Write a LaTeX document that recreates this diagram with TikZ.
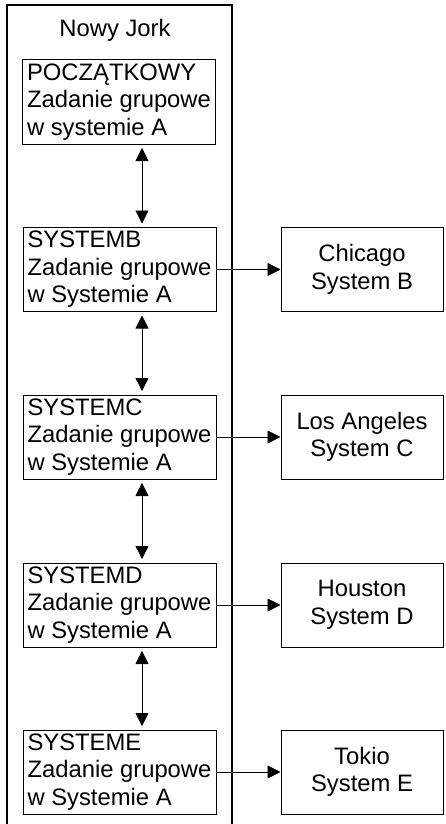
\documentclass[tikz,border=0pt]{standalone}
\usepackage{fontspec}
\setmainfont{Liberation Sans}
\usetikzlibrary{arrows.meta}
\begin{document}
\begin{tikzpicture}[x=1pt,y=-1pt,
  every node/.style={font=\fontsize{23.8}{27.5}\selectfont},
  jobbox/.style={draw,line width=1pt,minimum width=193pt,minimum height=84pt,inner xsep=2pt,align=left},
  sysbox/.style={draw,line width=1pt,minimum width=162pt,minimum height=84pt,align=center},
  conn/.style={line width=0.8pt,-{Triangle[length=13pt,width=13pt]}},
  biconn/.style={line width=0.8pt,{Triangle[length=13pt,width=13pt]}-{Triangle[length=13pt,width=13pt]},shorten <=3.5pt,shorten >=3.5pt}]
\useasboundingbox (0,0) rectangle (445,824);
\fill[white] (0,0) rectangle (445,824);
\draw[line width=1.4pt] (7,826) -- (7,5) -- (232,5) -- (232,826);
\node (ny) at (115,30) {Nowy Jork};
\node[jobbox] (a) at (119,102) {POCZĄTKOWY\\Zadanie grupowe\\w systemie A};
\node[jobbox] (b) at (119.5,269.5) {SYSTEMB\\Zadanie grupowe\\w Systemie A};
\node[jobbox] (c) at (119.5,437) {SYSTEMC\\Zadanie grupowe\\w Systemie A};
\node[jobbox] (d) at (119.5,605) {SYSTEMD\\Zadanie grupowe\\w Systemie A};
\node[jobbox] (e) at (119.5,772) {SYSTEME\\Zadanie grupowe\\w Systemie A};
\node[sysbox] (cb) at (362,269.5) {Chicago\\System B};
\node[sysbox] (cc) at (362,437) {Los Angeles\\System C};
\node[sysbox] (cd) at (362,605) {Houston\\System D};
\node[sysbox] (ce) at (362,772) {Tokio\\System E};
\foreach \u/\v in {a/b,b/c,c/d,d/e}
  \draw[biconn] (\u.south -| 142,0) -- (\v.north -| 142,0);
\foreach \u/\v in {b/cb,c/cc,d/cd,e/ce}
  \draw[conn] (\u.east) -- (\v.west);
\end{tikzpicture}
\end{document}
